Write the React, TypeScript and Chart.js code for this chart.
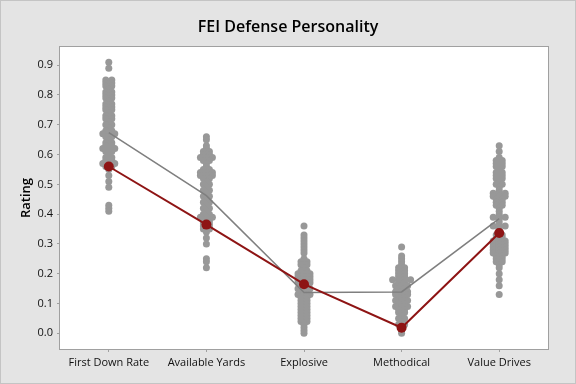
import React, { useEffect, useRef } from "react";
import { Chart, registerables } from "chart.js";

Chart.register(...registerables);

const categories = ["First Down Rate", "Available Yards", "Explosive", "Methodical", "Value Drives"];
const yTickValues = [0.0, 0.1, 0.2, 0.3, 0.4, 0.5, 0.6, 0.7, 0.8, 0.9];

const firstDownRate = [
  0.91, 0.89,
  0.85, 0.85, 0.84, 0.84, 0.83, 0.83, 0.82, 0.81, 0.81, 0.80, 0.80, 0.79, 0.79, 0.78,
  0.77, 0.77, 0.76, 0.76, 0.75, 0.75, 0.74, 0.73, 0.73, 0.72, 0.72, 0.71, 0.70, 0.70,
  0.69, 0.68, 0.68, 0.67, 0.67, 0.67, 0.66, 0.66, 0.65, 0.64, 0.64, 0.63, 0.63,
  0.62, 0.62, 0.62, 0.61, 0.61, 0.60, 0.59, 0.59, 0.58, 0.58, 0.57, 0.57, 0.57,
  0.56, 0.56, 0.55, 0.53, 0.51, 0.49, 0.43, 0.42, 0.41,
];
const availableYards = [
  0.66, 0.65, 0.63, 0.62, 0.61, 0.61, 0.60, 0.60, 0.59, 0.59, 0.59, 0.58, 0.58, 0.57,
  0.56, 0.55, 0.55, 0.54, 0.54, 0.54, 0.53, 0.53, 0.53, 0.52, 0.52, 0.51, 0.50, 0.50,
  0.49, 0.48, 0.48, 0.47, 0.46, 0.46, 0.45, 0.44, 0.44, 0.43, 0.42, 0.42, 0.41,
  0.40, 0.40, 0.39, 0.39, 0.39, 0.38, 0.38, 0.37, 0.37, 0.36, 0.36, 0.35, 0.35, 0.34,
  0.32, 0.30, 0.25, 0.24, 0.22,
];
const explosive = [
  0.36, 0.33, 0.32, 0.31, 0.30, 0.29, 0.28, 0.27, 0.25, 0.24, 0.24, 0.23, 0.23, 0.22,
  0.21, 0.21, 0.20, 0.20, 0.20, 0.19, 0.19, 0.19, 0.18, 0.18, 0.18, 0.17, 0.17, 0.17,
  0.16, 0.16, 0.15, 0.15, 0.15, 0.14, 0.14, 0.13, 0.13, 0.13, 0.12, 0.12, 0.11, 0.11,
  0.10, 0.10, 0.09, 0.09, 0.08, 0.08, 0.07, 0.07, 0.06, 0.06, 0.05, 0.05, 0.04, 0.04,
  0.03, 0.02, 0.01, 0.00,
];
const methodical = [
  0.29, 0.26, 0.25, 0.24, 0.23, 0.22, 0.22, 0.21, 0.21, 0.20, 0.20, 0.19, 0.19,
  0.18, 0.18, 0.18, 0.18, 0.17, 0.17, 0.16, 0.16, 0.16, 0.15, 0.15, 0.14, 0.14, 0.14,
  0.13, 0.13, 0.13, 0.12, 0.12, 0.11, 0.11, 0.11, 0.10, 0.10, 0.09, 0.09, 0.09,
  0.08, 0.08, 0.07, 0.07, 0.06, 0.05, 0.05, 0.04, 0.03, 0.03, 0.02, 0.01, 0.00,
];
const valueDrives = [
  0.63, 0.61, 0.59, 0.58, 0.58, 0.57, 0.57, 0.56, 0.56, 0.55, 0.54, 0.54, 0.53, 0.53,
  0.52, 0.52, 0.51, 0.50, 0.50, 0.49, 0.48, 0.47, 0.47, 0.47, 0.46, 0.46, 0.46,
  0.45, 0.45, 0.44, 0.44, 0.43, 0.43, 0.42, 0.41, 0.40, 0.39, 0.39, 0.39, 0.38, 0.37,
  0.36, 0.36, 0.36, 0.35, 0.34, 0.33, 0.33, 0.32, 0.32, 0.31, 0.31, 0.31,
  0.30, 0.30, 0.30, 0.29, 0.29, 0.29, 0.28, 0.28, 0.28, 0.27, 0.27, 0.27,
  0.26, 0.26, 0.25, 0.25, 0.24, 0.24, 0.23, 0.22, 0.20, 0.18, 0.16, 0.13,
];

const meanValues = [0.674, 0.462, 0.137, 0.139, 0.385];
const teamValues = [0.56, 0.365, 0.165, 0.019, 0.337];

const seriesByCategory = [firstDownRate, availableYards, explosive, methodical, valueDrives];

// Spread tied values side by side, as an individual value plot does.
function spreadPoints(values: number[], catIndex: number, step: number) {
  const groups = new Map<string, number[]>();
  values.forEach((v) => {
    const k = v.toFixed(2);
    if (!groups.has(k)) groups.set(k, []);
    groups.get(k)!.push(v);
  });
  const pts: { x: number; y: number }[] = [];
  groups.forEach((arr) => {
    const n = arr.length;
    arr.forEach((v, k) => {
      pts.push({ x: catIndex + (k - (n - 1) / 2) * step, y: v });
    });
  });
  return pts;
}

const FONT = "'Open Sans', 'Noto Sans', sans-serif";

const framePlugin = {
  id: "frame",
  beforeDraw(chart: any) {
    const { ctx, width, height, chartArea } = chart;
    ctx.save();
    ctx.fillStyle = "#e4e4e4";
    ctx.fillRect(0, 0, width, height);
    ctx.strokeStyle = "#c4c4c4";
    ctx.lineWidth = 1;
    ctx.strokeRect(0.5, 0.5, width - 1, height - 1);
    ctx.fillStyle = "#ffffff";
    ctx.fillRect(chartArea.left, chartArea.top, chartArea.right - chartArea.left, chartArea.bottom - chartArea.top);
    ctx.restore();
  },
  afterDraw(chart: any) {
    const { ctx, chartArea } = chart;
    ctx.save();
    ctx.strokeStyle = "#a0a0a0";
    ctx.lineWidth = 1;
    ctx.strokeRect(
      chartArea.left - 0.5,
      chartArea.top - 0.5,
      chartArea.right - chartArea.left + 1,
      chartArea.bottom - chartArea.top + 1
    );
    ctx.restore();
  },
};

export default function App() {
  const ref = useRef<HTMLCanvasElement | null>(null);

  useEffect(() => {
    document.body.style.margin = "0";
    const canvas = ref.current;
    if (!canvas) return;
    const step = 6 / 97.75;
    const dots = seriesByCategory.flatMap((vals, i) => spreadPoints(vals, i, step));

    const chart = new Chart(canvas, {
      type: "scatter",
      data: {
        datasets: [
          {
            type: "line",
            label: "Team",
            data: teamValues.map((v, i) => ({ x: i, y: v })),
            borderColor: "#8e1414",
            backgroundColor: "#8e1414",
            borderWidth: 2,
            pointRadius: 5,
            pointBorderWidth: 0,
            tension: 0,
            order: 1,
          } as any,
          {
            type: "line",
            label: "Mean",
            data: meanValues.map((v, i) => ({ x: i, y: v })),
            borderColor: "#7f7f7f",
            borderWidth: 1.5,
            pointRadius: 0,
            tension: 0,
            order: 2,
          } as any,
          {
            type: "scatter",
            label: "Ratings",
            data: dots,
            backgroundColor: "#989898",
            borderWidth: 0,
            pointRadius: 3.5,
            order: 3,
          } as any,
        ],
      },
      options: {
        animation: false,
        responsive: false,
        devicePixelRatio: 1,
        layout: { padding: { left: 0, right: 0, top: 0, bottom: 0 } },
        plugins: {
          legend: { display: false },
          tooltip: { enabled: false },
          title: {
            display: true,
            text: "FEI Defense Personality",
            color: "#000000",
            font: { family: FONT, size: 16, weight: "600" as any, lineHeight: 1.2 },
            padding: { top: 18, bottom: 9.8 },
          },
        },
        scales: {
          x: {
            type: "linear",
            min: -0.5,
            max: 4.5,
            afterBuildTicks: (scale: any) => {
              scale.ticks = categories.map((_, i) => ({ value: i }));
            },
            afterFit: (scale: any) => {
              scale.height = 35;
            },
            ticks: {
              color: "#111111",
              font: { family: FONT, size: 11 },
              padding: 4,
              maxRotation: 0,
              autoSkip: false,
              callback: (v: any) => categories[Math.round(Number(v))] ?? "",
            },
            grid: { display: true, drawOnChartArea: false, drawTicks: true, tickLength: 3, color: "#a0a0a0" },
            border: { display: false },
          },
          y: {
            type: "linear",
            min: -0.0525,
            max: 0.961,
            afterBuildTicks: (scale: any) => {
              scale.ticks = yTickValues.map((v) => ({ value: v }));
            },
            afterFit: (scale: any) => {
              scale.width = 60;
            },
            ticks: {
              color: "#111111",
              font: { family: FONT, size: 11 },
              padding: 4,
              callback: (v: any) => Number(v).toFixed(1),
            },
            grid: { display: true, drawOnChartArea: false, drawTicks: true, tickLength: 3, color: "#a0a0a0" },
            border: { display: false },
            title: {
              display: true,
              text: "Rating",
              color: "#000000",
              font: { family: FONT, size: 13, weight: "600" as any, lineHeight: 1.2 },
              padding: { top: 18, bottom: 0 },
            },
          },
          yRight: {
            type: "linear",
            position: "right",
            display: true,
            min: 0,
            max: 1,
            afterFit: (scale: any) => {
              scale.width = 28;
            },
            ticks: { display: false },
            grid: { display: false, drawTicks: false },
            border: { display: false },
          },
        },
      },
      plugins: [framePlugin],
    } as any);

    return () => chart.destroy();
  }, []);

  return <canvas ref={ref} width={576} height={384} style={{ display: "block", width: 576, height: 384 }} />;
}
